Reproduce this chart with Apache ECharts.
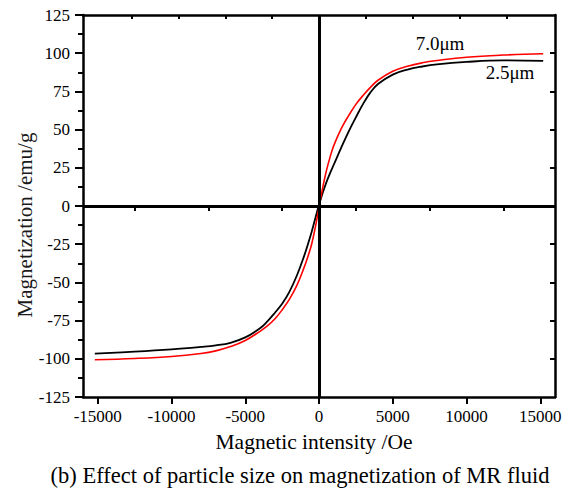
<!DOCTYPE html>
<html>
<head>
<meta charset="utf-8">
<script src="https://cdn.jsdelivr.net/npm/echarts@6/dist/echarts.min.js"></script>
<style>
html,body{margin:0;padding:0;background:#fff;}
#chart{width:573px;height:494px;}
</style>
</head>
<body>
<div id="chart"></div>
<script>
// ---- data ----
const fieldRed = [-15200,-12500,-10000,-8000,-7000,-6000,-5000,-4000,-3500,-3000,-2500,-2000,-1500,-1000,-750,-500,-250,0,250,500,750,1000,1500,2000,2500,3000,3500,4000,5000,6000,7000,8000,10000,12500,15200];
const magRed   = [-100.6,-99.8,-98.5,-96.5,-94.8,-92,-88,-82,-78.5,-74,-68,-61,-52,-40,-33,-25,-14,-1,12,23,32,39.5,50.5,59,66.5,72.5,77.8,82.3,88.2,91.5,93.7,95.2,97.4,98.8,99.6];
const fieldBlack = [-15200,-12500,-10000,-8000,-7000,-6000,-5000,-4000,-3500,-3000,-2500,-2000,-1500,-1000,-750,-500,-250,0,250,500,750,1000,1500,2000,2500,3000,3500,4000,5000,6000,7000,8000,10000,12500,15200];
const magBlack   = [-96.6,-95.3,-93.8,-92.2,-91.2,-89.5,-86,-80,-75.5,-70,-64,-56,-45.5,-32.5,-25,-17,-8,1,8.5,15.5,21.5,27,38,48.5,58,67,74.5,79.8,86,89.3,91.3,92.7,94.3,95.3,95.0];
const seriesNames = ['7.0μm','2.5μm'];
const xTickLabels = [-15000,-10000,-5000,0,5000,10000,15000];
const xMinorTicks = [-12500,-7500,-2500,2500,7500,12500];
const xTopTicks = [-12700,-9525,-6350,-3175,0,3175,6350,9525,12700];
const yRightTicks = [-100,-75,-50,-25,0,25,50,75,100];
const xTitle = 'Magnetic intensity /Oe';
const yTitle = 'Magnetization /emu/g';
const caption = '(b) Effect of particle size on magnetization of MR fluid';

const font = 'Liberation Serif, Times New Roman, serif';
const toPairs = (xs, ys) => xs.map((x, i) => [x, ys[i]]);

const chart = echarts.init(document.getElementById('chart'), null, {renderer: 'svg'});
const axisLine = {show: true, onZero: false, lineStyle: {color: '#000', width: 2.5}};
chart.setOption({
  animation: false,
  backgroundColor: '#fff',
  grid: {left: 83, right: 18, top: 15, bottom: 97, show: false},
  xAxis: [
    {
      type: 'value', min: -16000, max: 16000, position: 'bottom',
      axisLine: axisLine,
      splitLine: {show: false},
      axisTick: {show: true, length: 7, customValues: xTickLabels, lineStyle: {color: '#000', width: 2}},
      axisLabel: {customValues: xTickLabels, formatter: v => String(v), fontFamily: font, fontSize: 17, color: '#000', margin: 11}
    },
    {
      type: 'value', min: -16000, max: 16000, position: 'bottom',
      axisLine: {show: false},
      splitLine: {show: false},
      axisTick: {show: true, length: 5, customValues: xMinorTicks, lineStyle: {color: '#000', width: 2}},
      axisLabel: {show: false}
    },
    {
      type: 'value', min: -16000, max: 16000, position: 'top',
      axisLine: axisLine,
      splitLine: {show: false},
      axisTick: {show: true, inside: true, length: 4, customValues: xTopTicks, lineStyle: {color: '#000', width: 2}},
      axisLabel: {show: false}
    }
  ],
  yAxis: [
    {
      type: 'value', min: -125, max: 125, interval: 25, position: 'left',
      axisLine: axisLine,
      splitLine: {show: false},
      axisTick: {show: true, length: 8, lineStyle: {color: '#000', width: 2}},
      minorTick: {show: true, splitNumber: 2, length: 5, lineStyle: {color: '#000', width: 2}},
      axisLabel: {fontFamily: font, fontSize: 17, color: '#000', margin: 13}
    },
    {
      type: 'value', min: -125, max: 125, position: 'right',
      axisLine: axisLine,
      splitLine: {show: false},
      axisTick: {show: true, inside: true, length: 5, customValues: yRightTicks, lineStyle: {color: '#000', width: 2}},
      axisLabel: {show: false}
    }
  ],
  series: [
    {
      name: 'zero', type: 'line', data: [], xAxisIndex: 0, yAxisIndex: 0,
      markLine: {
        silent: true, symbol: ['none','none'], label: {show: false},
        lineStyle: {color: '#000', width: 3, type: 'solid'},
        data: [{xAxis: 0}, {yAxis: 0}]
      }
    },
    {
      name: seriesNames[1], type: 'line', smooth: 0.4, showSymbol: false,
      data: toPairs(fieldBlack, magBlack),
      lineStyle: {color: '#000', width: 1.8}, itemStyle: {color: '#000'}, z: 3
    },
    {
      name: seriesNames[0], type: 'line', smooth: 0.4, showSymbol: false,
      data: toPairs(fieldRed, magRed),
      lineStyle: {color: '#ff0000', width: 1.6}, itemStyle: {color: '#ff0000'}, z: 4
    }
  ],
  graphic: [
    {type: 'text', x: 314, y: 442, style: {text: xTitle, font: '21.5px ' + font, fill: '#000', align: 'center', verticalAlign: 'middle'}},
    {type: 'text', x: 300, y: 475, style: {text: caption, font: '22.5px ' + font, fill: '#000', align: 'center', verticalAlign: 'middle'}},
    {type: 'text', x: 25, y: 225, rotation: Math.PI / 2, style: {text: yTitle, font: '21px ' + font, fill: '#1a1a1a', align: 'center', verticalAlign: 'middle'}},
    {type: 'text', x: 440, y: 43, style: {text: seriesNames[0], font: '19px ' + font, fill: '#000', align: 'center', verticalAlign: 'middle'}},
    {type: 'text', x: 510, y: 72, style: {text: seriesNames[1], font: '19px ' + font, fill: '#000', align: 'center', verticalAlign: 'middle'}}
  ]
});
</script>
</body>
</html>
